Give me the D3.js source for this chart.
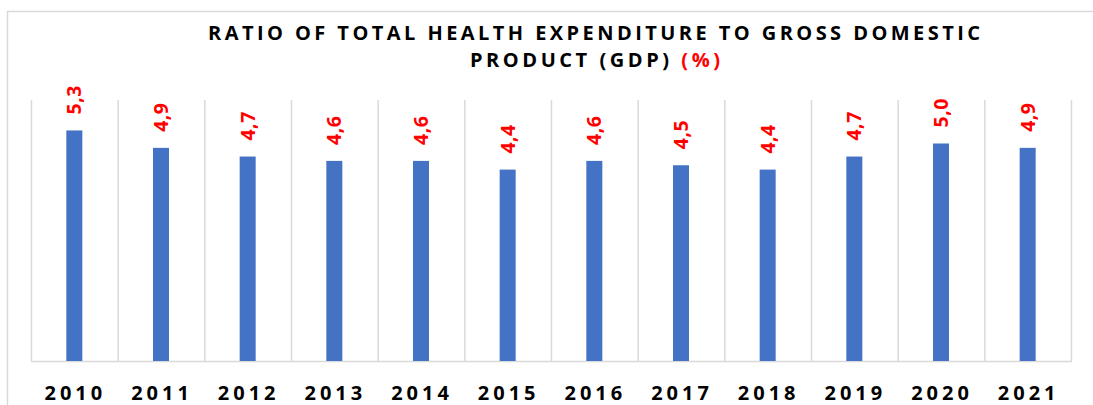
<!DOCTYPE html>
<html>
<head>
<meta charset="utf-8">
<script src="https://cdn.jsdelivr.net/npm/d3@7"></script>
<style>
  html, body { margin: 0; padding: 0; background: #fff; }
  svg { display: block; }
  text { font-family: "Open Sans", "Noto Sans", sans-serif; font-weight: 700; }
</style>
</head>
<body>
<svg id="chart" width="1093" height="405"></svg>
<script>
// Ratio of total health expenditure to GDP, in percent
const years = ["2010", "2011", "2012", "2013", "2014", "2015", "2016", "2017", "2018", "2019", "2020", "2021"];
const ratios = [5.3, 4.9, 4.7, 4.6, 4.6, 4.4, 4.6, 4.5, 4.4, 4.7, 5.0, 4.9];
const titleLine1 = "RATIO OF TOTAL HEALTH EXPENDITURE TO GROSS DOMESTIC";
const titleLine2 = "PRODUCT (GDP) ";
const titleUnit = "(%)";

const svg = d3.select("#chart");
const plot = { left: 31, right: 1071, top: 100, bottom: 361 };

// outer chart frame
svg.append("rect")
  .attr("x", 7.5).attr("y", 11.5)
  .attr("width", 1100).attr("height", 420)
  .attr("fill", "none").attr("stroke", "#d9d9d9").attr("stroke-width", 1.5);

// category bands (one cell per year) and narrower bars centred in them
const cells = d3.scaleBand().domain(years).range([plot.left, plot.right]).padding(0);
const barPad = 1 - 16 / cells.step();
const bars = d3.scaleBand().domain(years).range([plot.left, plot.right])
  .paddingInner(barPad).paddingOuter(barPad / 2);
const y = d3.scaleLinear().domain([0, 6]).range([plot.bottom, plot.top]);

// vertical separators between categories
const seps = years.map(d => cells(d)).concat([plot.right]);
svg.append("g").selectAll("line").data(seps).join("line")
  .attr("x1", d => d + 0.5).attr("x2", d => d + 0.5)
  .attr("y1", plot.top).attr("y2", plot.bottom)
  .attr("stroke", "#d9d9d9").attr("stroke-width", 1.5);

// baseline
svg.append("line")
  .attr("x1", plot.left).attr("x2", plot.right + 1)
  .attr("y1", plot.bottom + 0.5).attr("y2", plot.bottom + 0.5)
  .attr("stroke", "#d9d9d9").attr("stroke-width", 1.5);

// bars
svg.append("g").selectAll("rect").data(years).join("rect")
  .attr("x", d => bars(d))
  .attr("width", bars.bandwidth())
  .attr("y", (d, i) => y(ratios[i]))
  .attr("height", (d, i) => y(0) - y(ratios[i]))
  .attr("fill", "#4472C4");

// value labels, rotated, with decimal comma
const fmt = v => d3.format(".1f")(v).replace(".", ",");
svg.append("g").selectAll("text").data(years).join("text")
  .attr("transform", (d, i) => `translate(${cells(d) + cells.bandwidth() / 2},${y(ratios[i]) - 16}) rotate(-90)`)
  .attr("x", 0).attr("y", 7)
  .attr("font-size", 19.5)
  .attr("letter-spacing", 0.5)
  .attr("fill", "#FF0000")
  .text((d, i) => fmt(ratios[i]));

// category axis labels
const xAxis = d3.axisBottom(cells).tickSize(0).tickPadding(0);
const gx = svg.append("g").attr("transform", `translate(0,${plot.bottom})`).call(xAxis);
gx.select(".domain").remove();
gx.selectAll("text")
  .attr("dy", null)
  .attr("y", 39)
  .attr("x", 1)
  .attr("font-family", "\"Open Sans\", sans-serif")
  .attr("font-weight", 700)
  .attr("font-size", 20)
  .attr("letter-spacing", 4)
  .attr("fill", "#000");

// title
svg.append("text")
  .attr("x", 208).attr("y", 40)
  .attr("font-size", 20)
  .attr("textLength", 772).attr("lengthAdjust", "spacing")
  .attr("fill", "#000")
  .text(titleLine1);
const t2 = svg.append("text")
  .attr("x", 470).attr("y", 67)
  .attr("font-size", 20)
  .attr("textLength", 250).attr("lengthAdjust", "spacing")
  .attr("fill", "#000");
t2.append("tspan").text(titleLine2);
t2.append("tspan").attr("fill", "#FF0000").text(titleUnit);
</script>
</body>
</html>
